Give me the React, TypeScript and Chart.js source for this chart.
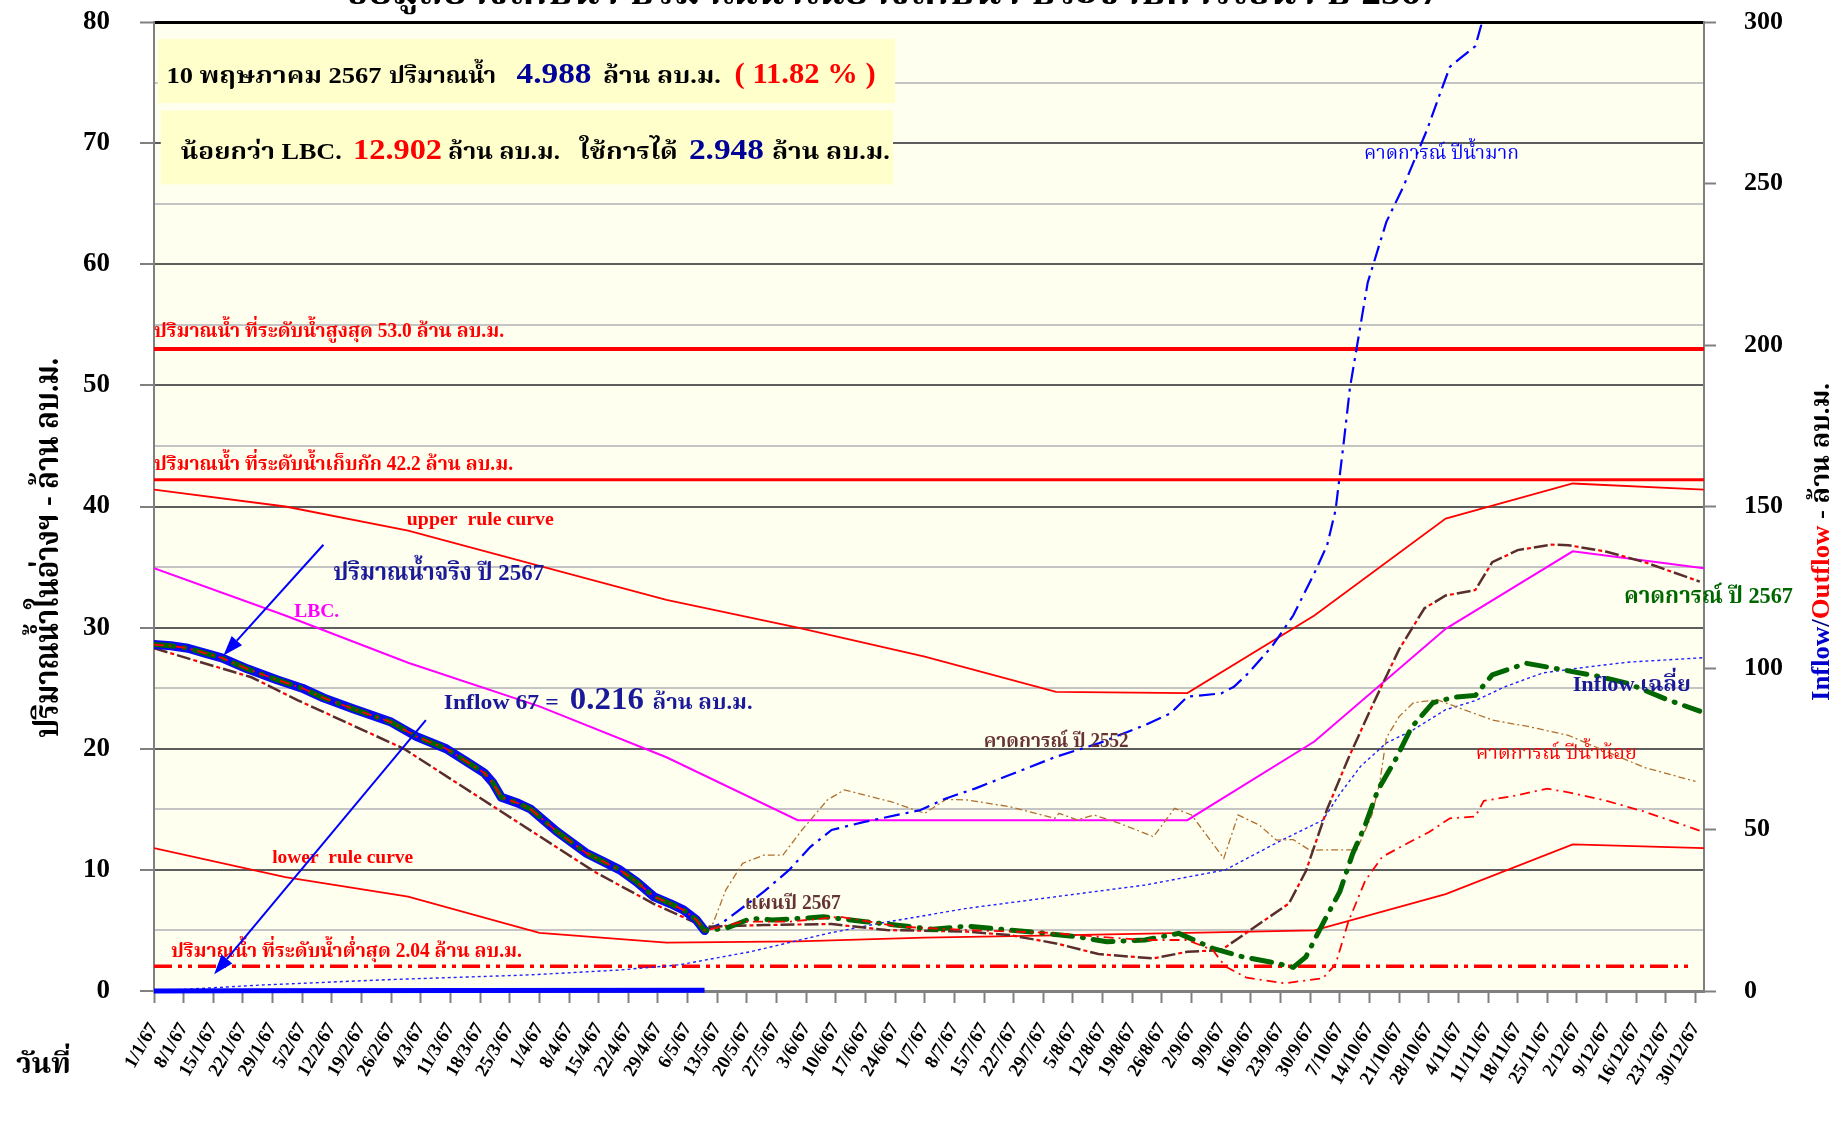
import React, { useEffect, useRef } from 'react';
import { Chart, registerables } from 'chart.js';

Chart.register(...registerables);

const SERIF = "'Liberation Serif','Noto Serif Thai','Noto Sans Thai','Times New Roman',serif";

// ---------- x axis ----------
const weekLabels = [
  '1/1/67', '8/1/67', '15/1/67', '22/1/67', '29/1/67', '5/2/67', '12/2/67', '19/2/67', '26/2/67',
  '4/3/67', '11/3/67', '18/3/67', '25/3/67', '1/4/67', '8/4/67', '15/4/67', '22/4/67', '29/4/67',
  '6/5/67', '13/5/67', '20/5/67', '27/5/67', '3/6/67', '10/6/67', '17/6/67', '24/6/67', '1/7/67',
  '8/7/67', '15/7/67', '22/7/67', '29/7/67', '5/8/67', '12/8/67', '19/8/67', '26/8/67', '2/9/67',
  '9/9/67', '16/9/67', '23/9/67', '30/9/67', '7/10/67', '14/10/67', '21/10/67', '28/10/67',
  '4/11/67', '11/11/67', '18/11/67', '25/11/67', '2/12/67', '9/12/67', '16/12/67', '23/12/67', '30/12/67',
];
const tickDays = weekLabels.map((_, i) => i * 7);
const yearEnd = 366;

// ---------- reference levels (ล้าน ลบ.ม.) ----------
const maxLevel = 53.0;
const normalLevel = 42.2;
const minLevel = 2.04;

// ---------- rule curves ----------
const monthDays = [0, 31, 60, 91, 121, 152, 182, 213, 244, 274, 305, 335, 366];
const upperRuleVals = [41.4, 40.0, 38.0, 35.1, 32.3, 30.0, 27.6, 24.7, 24.6, 31.0, 39.0, 41.9, 41.4];
const lowerRuleVals = [11.8, 9.4, 7.8, 4.8, 4.0, 4.1, 4.4, 4.6, 4.8, 5.0, 8.0, 12.1, 11.8];
const lbcVals = [34.9, 31.0, 27.1, 23.5, 19.3, 14.1, 14.1, 14.1, 14.1, 20.6, 29.9, 36.3, 34.9];

// ---------- actual storage 2567 ----------
const actualDays = [0, 4, 8, 12, 16, 22, 29, 35, 40, 47, 56, 62, 69, 74, 78, 80, 82, 86, 89, 95, 102, 106, 110, 114, 118, 122, 125, 128, 130];
const actualVals = [28.6, 28.5, 28.3, 27.9, 27.5, 26.6, 25.7, 25.0, 24.2, 23.3, 22.2, 21.0, 20.0, 18.9, 18.0, 17.2, 16.0, 15.5, 15.0, 13.2, 11.4, 10.7, 10.0, 9.0, 7.8, 7.2, 6.7, 5.9, 4.99];

// ---------- forecast 2567 (green) ----------
const fc2567Days = [135, 141, 146, 153, 158, 168, 175, 184, 192, 202, 209, 218, 225, 234, 242, 250, 257, 265, 269, 272, 276, 280, 283, 286, 289, 293, 297, 302, 307, 312, 316, 324, 332, 341, 348, 357, 365];
const fc2567Vals = [5.17, 6.0, 5.86, 6.0, 6.13, 5.72, 5.45, 5.09, 5.36, 5.03, 4.81, 4.48, 4.07, 4.21, 4.76, 3.52, 2.83, 2.3, 1.95, 2.82, 5.57, 8.2, 11.3, 13.7, 16.6, 19.0, 21.8, 23.8, 24.25, 24.4, 26.1, 27.06, 26.56, 25.98, 25.4, 24.1, 23.1];

// ---------- dry-year forecast (red) ----------
const dryDays = [139, 150, 162, 176, 192, 211, 223, 234, 244, 250, 253, 258, 267, 276, 279, 282, 286, 290, 296, 301, 306, 312, 314, 321, 329, 334, 343, 352, 365];
const dryVals = [5.72, 5.72, 6.13, 5.31, 5.03, 4.81, 4.48, 4.21, 4.21, 3.38, 2.01, 1.1, 0.64, 1.06, 2.2, 5.7, 9.1, 11.07, 12.2, 13.1, 14.26, 14.4, 15.7, 16.1, 16.7, 16.4, 15.7, 14.8, 13.24];

// ---------- wet-year forecast (blue) ----------
const wetDays = [130, 134, 144, 150, 155, 160, 168, 181, 187, 194, 202, 213, 223, 230, 234, 240, 244, 252, 255, 258, 264, 269, 274, 277, 279, 280, 281, 282.4, 286.6, 291, 295, 300.6, 304, 306, 308.4, 312, 313.4, 316];
const wetVals = [4.99, 5.58, 8.2, 10.0, 11.9, 13.3, 13.98, 14.94, 15.9, 16.73, 17.83, 19.34, 20.44, 21.41, 21.96, 22.92, 24.3, 24.57, 25.12, 26.1, 28.45, 31.0, 34.5, 36.8, 39.7, 42.6, 45.5, 49.8, 58.5, 63.5, 66.4, 71.1, 74.4, 76.3, 77.0, 78.0, 79.75, 84.0];

// ---------- forecast 2552 (maroon) ----------
const fc2552Days = [0, 23, 34, 59, 104, 118, 130, 144, 160, 173, 192, 202, 213, 223, 236, 244, 252, 260, 268, 272, 277, 282, 288, 294, 300, 305, 312, 316, 322, 330, 334, 343, 352, 365];
const fc2552Vals = [28.3, 25.9, 24.0, 20.0, 9.85, 7.2, 5.3, 5.45, 5.53, 5.03, 4.9, 4.62, 3.93, 3.05, 2.69, 3.24, 3.38, 5.3, 7.23, 9.9, 15.0, 19.2, 23.8, 28.2, 31.6, 32.65, 33.1, 35.4, 36.4, 36.85, 36.8, 36.27, 35.4, 33.8];

// ---------- plan 2567 (tan) ----------
const planDays = [130, 132, 135, 139, 144, 148.5, 153, 159, 163, 174, 182, 187, 192, 202, 212.7, 213.7, 218, 222, 228, 236, 241, 245, 252.6, 256, 261, 265, 269, 273, 276, 284, 287.6, 289.4, 291, 294, 297.4, 303, 308, 316, 325, 334, 343, 352, 364];
const planVals = [5.0, 5.58, 8.33, 10.54, 11.22, 11.22, 13.29, 15.77, 16.6, 15.63, 14.67, 15.82, 15.77, 15.22, 14.25, 14.67, 14.12, 14.53, 13.84, 12.74, 15.08, 14.53, 10.95, 14.53, 13.7, 12.46, 12.5, 11.6, 11.65, 11.65, 14.55, 17.15, 20.9, 22.65, 23.8, 24.05, 23.4, 22.37, 21.8, 21.1, 19.76, 18.45, 17.3];

// ---------- inflow (right axis) ----------
const inflowAvgDays = [0, 7, 26, 57, 89, 110, 124, 141, 159, 171, 192, 213, 234, 253, 258, 266, 276, 280, 285, 291, 297, 305, 312, 319, 328, 339, 348, 366];
const inflowAvgVals = [0.1, 0.5, 1.9, 3.6, 5.0, 6.5, 8.1, 12.2, 17.8, 20.9, 25.6, 29.2, 32.8, 37.5, 41.0, 46.5, 52.9, 61.0, 69.7, 76.8, 80.6, 87.1, 89.9, 94.2, 98.5, 100.4, 101.8, 103.2];
const inflow67Days = [0, 20, 130];
const inflow67Vals = [0, 0.1, 0.2];

const pts = (d: number[], v: number[]) => d.map((x, i) => ({ x, y: v[i] }));

// ---------- annotations (data coordinates) ----------
const boxes = [
  { d0: 0.9, d1: 175, v0: 78.6, v1: 73.3 },
  { d0: 1.6, d1: 174.5, v0: 72.7, v1: 66.6 },
];
const boxTexts = [
  { t: '10 พฤษภาคม 2567', d: 2.95, v: 74.93, w: 215, c: '#000', s: 23 },
  { t: 'ปริมาณน้ำ', d: 55.5, v: 74.93, w: 107, c: '#000', s: 23 },
  { t: '4.988', d: 85.6, v: 74.93, w: 75, c: '#000099', s: 30 },
  { t: 'ล้าน ลบ.ม.', d: 106, v: 74.93, w: 118, c: '#000', s: 23 },
  { t: '( 11.82 % )', d: 137.1, v: 74.93, w: 141, c: '#FF0000', s: 30 },
  { t: 'น้อยกว่า LBC.', d: 6.33, v: 68.66, w: 161, c: '#000', s: 23 },
  { t: '12.902', d: 47, v: 68.66, w: 89, c: '#FF0000', s: 30 },
  { t: 'ล้าน ลบ.ม.', d: 69.4, v: 68.66, w: 112, c: '#000', s: 23 },
  { t: 'ใช้การได้', d: 100.5, v: 68.66, w: 98, c: '#000', s: 23 },
  { t: '2.948', d: 126.3, v: 68.66, w: 75, c: '#000099', s: 30 },
  { t: 'ล้าน ลบ.ม.', d: 145.9, v: 68.66, w: 118, c: '#000', s: 23 },
];
const labels = [
  { t: 'ปริมาณน้ำ ที่ระดับน้ำสูงสุด 53.0 ล้าน ลบ.ม.', d: 0, v: 54.0, w: 350, c: '#FF0000', s: 20, b: true },
  { t: 'ปริมาณน้ำ ที่ระดับน้ำเก็บกัก 42.2 ล้าน ลบ.ม.', d: 0, v: 43.0, w: 359, c: '#FF0000', s: 20, b: true },
  { t: 'ปริมาณน้ำ ที่ระดับน้ำต่ำสุด 2.04 ล้าน ลบ.ม.', d: 4.0, v: 2.83, w: 351, c: '#FF0000', s: 20, b: true },
  { t: 'upper  rule curve', d: 59.7, v: 38.47, w: 147, c: '#FF0000', s: 18, b: true },
  { t: 'lower  rule curve', d: 27.9, v: 10.54, w: 141, c: '#FF0000', s: 18, b: true },
  { t: 'ปริมาณน้ำจริง ปี 2567', d: 42.3, v: 33.93, w: 211, c: '#1A1A99', s: 24, b: true },
  { t: 'LBC.', d: 33.1, v: 30.9, w: 45, c: '#FF00FF', s: 18, b: true },
  { t: 'Inflow 67 =', d: 68.4, v: 23.26, w: 115, c: '#1A1A99', s: 22, b: true },
  { t: '0.216', d: 98.2, v: 23.26, w: 74, c: '#1A1A99', s: 32, b: true },
  { t: 'ล้าน ลบ.ม.', d: 117.7, v: 23.26, w: 100, c: '#1A1A99', s: 22, b: true },
  { t: 'แผนปี 2567', d: 139.5, v: 6.74, w: 96, c: '#663333', s: 20, b: true },
  { t: 'คาดการณ์ ปี 2552', d: 195.9, v: 20.17, w: 145, c: '#663333', s: 20, b: true },
  { t: 'คาดการณ์ ปีน้ำมาก', d: 285.7, v: 68.66, w: 155, c: '#0000FF', s: 20, b: false },
  { t: 'คาดการณ์ ปี 2567', d: 347.1, v: 32.07, w: 169, c: '#006600', s: 23, b: true },
  { t: 'Inflow เฉลี่ย', d: 335, v: 24.74, w: 118, c: '#1A1A99', s: 22, b: true },
  { t: 'คาดการณ์ ปีน้ำน้อย', d: 312.1, v: 19.18, w: 161, c: '#FF0000', s: 20, b: false },
];
const arrows = [
  { d0: 40.0, v0: 36.84, d1: 16.4, v1: 27.7 },
  { d0: 64.2, v0: 22.37, d1: 14.2, v1: 1.38 },
];

function drawFit(ctx: CanvasRenderingContext2D, text: string, x: number, y: number, w: number, font: string, color: string) {
  ctx.save();
  ctx.font = font;
  ctx.fillStyle = color;
  ctx.textAlign = 'left';
  ctx.textBaseline = 'alphabetic';
  const m = ctx.measureText(text).width;
  const s = w && m > 0 ? w / m : 1;
  ctx.translate(x, y);
  ctx.scale(s, 1);
  ctx.fillText(text, 0, 0);
  ctx.restore();
}

function drawRotated(ctx: CanvasRenderingContext2D, parts: { t: string; c: string }[], baseX: number, bottomY: number, len: number, font: string) {
  ctx.save();
  ctx.font = font;
  const widths = parts.map((p) => ctx.measureText(p.t).width);
  const total = widths.reduce((a, b) => a + b, 0);
  const s = len / total;
  ctx.translate(baseX, bottomY);
  ctx.rotate(-Math.PI / 2);
  ctx.scale(s, 1);
  ctx.textAlign = 'left';
  ctx.textBaseline = 'alphabetic';
  let x = 0;
  parts.forEach((p, i) => {
    ctx.fillStyle = p.c;
    ctx.fillText(p.t, x, 0);
    x += widths[i];
  });
  ctx.restore();
}

const decorPlugin = {
  id: 'decor',
  beforeDraw(chart: any) {
    const { ctx, chartArea: a } = chart;
    ctx.save();
    ctx.fillStyle = '#FFFFFF';
    ctx.fillRect(0, 0, chart.width, chart.height);
    ctx.fillStyle = '#FFFFF0';
    ctx.fillRect(a.left, a.top, a.right - a.left, a.bottom - a.top);
    ctx.restore();
  },
  beforeDatasetsDraw(chart: any) {
    const { ctx } = chart;
    const xs = chart.scales.x;
    const ys = chart.scales.y;
    ctx.save();
    ctx.fillStyle = '#FFFFCC';
    boxes.forEach((b) => {
      const x0 = xs.getPixelForValue(b.d0);
      const x1 = xs.getPixelForValue(b.d1);
      const y0 = ys.getPixelForValue(b.v0);
      const y1 = ys.getPixelForValue(b.v1);
      ctx.fillRect(x0, y0, x1 - x0, y1 - y0);
    });
    ctx.restore();
  },
  afterDatasetsDraw(chart: any) {
    const { ctx } = chart;
    const xs = chart.scales.x;
    const ys = chart.scales.y;
    boxTexts.forEach((t) => {
      drawFit(ctx, t.t, xs.getPixelForValue(t.d), ys.getPixelForValue(t.v), t.w, `bold ${t.s}px ${SERIF}`, t.c);
    });
    labels.forEach((t) => {
      drawFit(ctx, t.t, xs.getPixelForValue(t.d), ys.getPixelForValue(t.v), t.w, `${t.b ? 'bold ' : ''}${t.s}px ${SERIF}`, t.c);
    });
    ctx.save();
    ctx.strokeStyle = '#0000FF';
    ctx.fillStyle = '#0000FF';
    ctx.lineWidth = 2;
    arrows.forEach((a) => {
      const x0 = xs.getPixelForValue(a.d0);
      const y0 = ys.getPixelForValue(a.v0);
      const x1 = xs.getPixelForValue(a.d1);
      const y1 = ys.getPixelForValue(a.v1);
      const ang = Math.atan2(y1 - y0, x1 - x0);
      const hl = 20;
      const hw = 7;
      const bx = x1 - hl * Math.cos(ang);
      const by = y1 - hl * Math.sin(ang);
      ctx.beginPath();
      ctx.moveTo(x0, y0);
      ctx.lineTo(bx, by);
      ctx.stroke();
      ctx.beginPath();
      ctx.moveTo(x1, y1);
      ctx.lineTo(bx + hw * Math.sin(ang), by - hw * Math.cos(ang));
      ctx.lineTo(bx - hw * Math.sin(ang), by + hw * Math.cos(ang));
      ctx.closePath();
      ctx.fill();
    });
    ctx.restore();
  },
  afterDraw(chart: any) {
    const { ctx } = chart;
    // title (mostly cut off at the top edge, as in the source picture)
    drawFit(ctx, 'ข้อมูลอ่างเก็บน้ำ ปริมาณน้ำในอ่างเก็บน้ำ ประจำปีการใช้น้ำ ปี 2567', 345, 4, 1095, `bold 36px ${SERIF}`, '#000');
    drawRotated(ctx, [{ t: 'ปริมาณน้ำในอ่างฯ - ล้าน ลบ.ม.', c: '#000' }], 58, 738, 380, `bold 34px ${SERIF}`);
    drawRotated(
      ctx,
      [
        { t: 'Inflow', c: '#0000CC' },
        { t: '/', c: '#000080' },
        { t: 'Outflow', c: '#FF0000' },
        { t: ' - ล้าน ลบ.ม.', c: '#000' },
      ],
      1829,
      701,
      318,
      `bold 26px ${SERIF}`
    );
    drawFit(ctx, 'วันที่', 16, 1073, 55, `bold 28px ${SERIF}`, '#000');
  },
};

const fixVertical = (w: number) => (s: any) => {
  s.width = w;
  s.paddingTop = 0;
  s.paddingBottom = 0;
};

export default function App() {
  const ref = useRef<HTMLCanvasElement | null>(null);

  useEffect(() => {
    if (!ref.current) return;
    const base = { pointRadius: 0, tension: 0, fill: false, xAxisID: 'x' };
    const chart = new Chart(ref.current, {
      type: 'line',
      data: {
        datasets: [
          { ...base, label: 'Inflow 67', data: pts(inflow67Days, inflow67Vals), yAxisID: 'y2', borderColor: '#0000FF', borderWidth: 5, clip: false, order: 1 },
          { ...base, label: 'คาดการณ์ปีน้ำน้อย', data: pts(actualDays.concat(dryDays), actualVals.concat(dryVals)), yAxisID: 'y', borderColor: '#FF0000', borderWidth: 1.8, borderDash: [10, 5, 2, 5], order: 2 },
          { ...base, label: 'คาดการณ์ปี 2567', data: pts(actualDays.concat(fc2567Days), actualVals.concat(fc2567Vals)), yAxisID: 'y', borderColor: '#006600', borderWidth: 5, borderDash: [20, 10, 1, 10], borderCapStyle: 'round', order: 3 },
          { ...base, label: 'ปริมาณน้ำจริง 2567', data: pts(actualDays, actualVals), yAxisID: 'y', borderColor: '#0A0AF0', borderWidth: 9, borderJoinStyle: 'round', borderCapStyle: 'round', order: 4 },
          { ...base, label: '2552 overlay', data: pts(fc2552Days, fc2552Vals), yAxisID: 'y', borderColor: '#FF0000', borderWidth: 2.2, borderDash: [4, 20], borderDashOffset: 7, order: 5 },
          { ...base, label: 'คาดการณ์ปี 2552', data: pts(fc2552Days, fc2552Vals), yAxisID: 'y', borderColor: '#5A2D2D', borderWidth: 2.5, borderDash: [14, 10], order: 6 },
          { ...base, label: 'คาดการณ์ปีน้ำมาก', data: pts(wetDays, wetVals), yAxisID: 'y', borderColor: '#0000FF', borderWidth: 2.2, borderDash: [16, 6, 3, 6], order: 7 },
          { ...base, label: 'แผนปี 2567', data: pts(planDays, planVals), yAxisID: 'y', borderColor: '#B07030', borderWidth: 1.3, borderDash: [7, 3, 2, 3], order: 8 },
          { ...base, label: 'Inflow เฉลี่ย', data: pts(inflowAvgDays, inflowAvgVals), yAxisID: 'y2', borderColor: '#2020FF', borderWidth: 1.4, borderDash: [3, 3], order: 9 },
          { ...base, label: 'LBC', data: pts(monthDays, lbcVals), yAxisID: 'y', borderColor: '#FF00FF', borderWidth: 2, order: 10 },
          { ...base, label: 'upper rule curve', data: pts(monthDays, upperRuleVals), yAxisID: 'y', borderColor: '#FF0000', borderWidth: 1.8, order: 11 },
          { ...base, label: 'lower rule curve', data: pts(monthDays, lowerRuleVals), yAxisID: 'y', borderColor: '#FF0000', borderWidth: 1.8, order: 12 },
          { ...base, label: 'max', data: pts([0, yearEnd], [maxLevel, maxLevel]), yAxisID: 'y', borderColor: '#FF0000', borderWidth: 4, order: 13 },
          { ...base, label: 'normal', data: pts([0, yearEnd], [normalLevel, normalLevel]), yAxisID: 'y', borderColor: '#FF0000', borderWidth: 3, order: 13 },
          { ...base, label: 'min', data: pts([0, 363], [minLevel, minLevel]), yAxisID: 'y', borderColor: '#FF0000', borderWidth: 3.5, borderDash: [18, 6, 4, 6, 4, 6], order: 13 },
        ],
      },
      options: {
        responsive: false,
        animation: false,
        devicePixelRatio: 1,
        parsing: true,
        layout: { padding: { top: 22, left: 0, right: 0, bottom: 0 } },
        plugins: { legend: { display: false }, tooltip: { enabled: false }, title: { display: false } },
        scales: {
          x: {
            type: 'linear',
            min: 0,
            max: yearEnd,
            afterBuildTicks: (s: any) => {
              s.ticks = tickDays.map((v) => ({ value: v }));
            },
            afterFit: (s: any) => {
              s.height = 134;
            },
            ticks: {
              autoSkip: false,
              minRotation: 60,
              maxRotation: 60,
              padding: 16,
              color: '#000',
              font: { family: SERIF, size: 19, weight: 'bold' },
              callback: (v: any) => weekLabels[Math.round(Number(v) / 7)] ?? '',
            },
            grid: { drawOnChartArea: false, drawTicks: true, tickLength: 12, tickColor: '#808080', tickWidth: 2 },
            border: { color: '#808080', width: 3 },
          },
          y: {
            position: 'left',
            min: 0,
            max: 80,
            afterFit: fixVertical(154),
            ticks: {
              stepSize: 5,
              padding: 30,
              color: '#000',
              font: { family: SERIF, size: 27, weight: 'bold' },
              callback: (v: any) => (Number(v) % 10 === 0 ? String(v) : ''),
            },
            grid: {
              color: (c: any) => {
                const v = c.tick ? c.tick.value : 0;
                if (v === 80) return '#000000';
                return v % 10 === 0 ? '#5E5E5E' : '#C4C4C4';
              },
              lineWidth: (c: any) => (c.tick && c.tick.value === 80 ? 3 : 2),
              tickLength: 14,
              tickWidth: 2,
              tickColor: (c: any) => {
                const v = c.tick ? c.tick.value : 0;
                return v % 10 === 0 ? '#808080' : 'rgba(0,0,0,0)';
              },
            },
            border: { color: '#808080', width: 2 },
          },
          y2: {
            position: 'right',
            min: 0,
            max: 300,
            afterFit: fixVertical(141),
            ticks: {
              stepSize: 50,
              padding: 28,
              color: '#000',
              font: { family: SERIF, size: 26, weight: 'bold' },
            },
            grid: { drawOnChartArea: false, tickLength: 12, tickWidth: 2, tickColor: '#808080' },
            border: { color: '#808080', width: 2 },
          },
        },
      } as any,
      plugins: [decorPlugin],
    });
    return () => chart.destroy();
  }, []);

  return (
    <div style={{ position: 'absolute', left: 0, top: 0, width: 1845, height: 1125, background: '#fff' }}>
      <canvas ref={ref} width={1845} height={1125} style={{ width: 1845, height: 1125, display: 'block' }} />
    </div>
  );
}
